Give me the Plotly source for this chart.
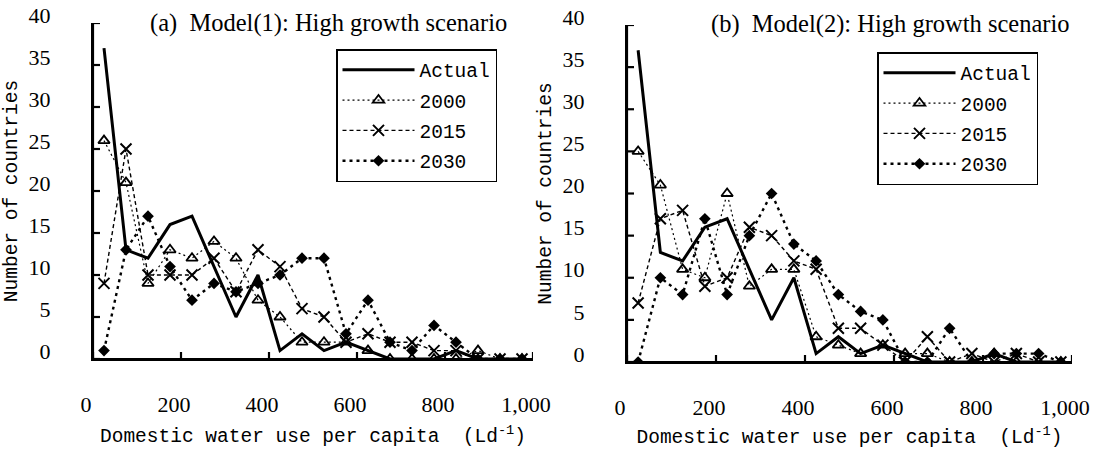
import plotly.graph_objects as go
from plotly.subplots import make_subplots

# ---------------- data ----------------
bins = [25, 75, 125, 175, 225, 275, 325, 375, 425, 475,
        525, 575, 625, 675, 725, 775, 825, 875, 925, 975]

actual = [37, 13, 12, 16, 17, 11, 5, 10, 1, 3, 1, 2, 1, 0, 0, 0, 1, 0, 0, 0]

a_2000 = [26, 21, 9, 13, 12, 14, 12, 7, 5, 2, 2, 2, 1, 0, 0, 0, 0, 1, 0, 0]
a_2015 = [9, 25, 10, 10, 10, 12, 8, 13, 11, 6, 5, 2, 3, 2, 2, 1, 1, 0, 0, 0]
a_2030 = [1, 13, 17, 11, 7, 9, 8, 9, 10, 12, 12, 3, 7, 2, 1, 4, 2, 0, 0, 0]

b_2000 = [25, 21, 11, 10, 20, 9, 11, 11, 3, 2, 1, 2, 1, 1, 0, 0, 1, 0, 0, 0]
b_2015 = [7, 17, 18, 9, 10, 16, 15, 12, 11, 4, 4, 2, 0, 3, 0, 1, 0, 1, 0, 0]
b_2030 = [0, 10, 8, 17, 8, 15, 20, 14, 12, 8, 6, 5, 0, 0, 4, 0, 1, 1, 1, 0]

x_range = [0, 1000]
y_range = [0, 40]
x_ticks = [0, 200, 400, 600, 800, 1000]
y_ticks = [0, 5, 10, 15, 20, 25, 30, 35, 40]

titles = ["(a)\u00a0\u00a0Model(1): High growth scenario",
          "(b)\u00a0\u00a0Model(2): High growth scenario"]
x_title = "Domestic water use per capita\u00a0\u00a0(Ld<sup>-1</sup>)"
y_title = "Number of countries"

# ---------------- styling ----------------
W, H = 1099, 449
SERIF = "Liberation Serif"
MONO = "Liberation Mono"
TICKLEN = 7

styles = {
    "Actual": dict(mode="lines", line=dict(color="black", width=3)),
    "2000": dict(mode="lines+markers", line=dict(color="black", width=1.2, dash="2px,3px"),
                 marker=dict(symbol="triangle-up-open", size=10, color="black",
                             line=dict(width=1.8, color="black"))),
    "2015": dict(mode="lines+markers", line=dict(color="black", width=1.4, dash="4px,3px"),
                 marker=dict(symbol="x-thin-open", size=11, color="black",
                             line=dict(width=2, color="black"))),
    "2030": dict(mode="lines+markers", line=dict(color="black", width=2.4, dash="3px,4px"),
                 marker=dict(symbol="diamond", size=9, color="black")),
}

# pixel geometry of the two plot areas (left, right, top, bottom)
boxes = [(93, 533, 23, 359), (627, 1072, 25, 362)]

fig = make_subplots(rows=1, cols=2)

panels = [
    dict(col=1, legend="legend", group="a",
         series={"Actual": actual, "2000": a_2000, "2015": a_2015, "2030": a_2030}),
    dict(col=2, legend="legend2", group="b",
         series={"Actual": actual, "2000": b_2000, "2015": b_2015, "2030": b_2030}),
]

for p in panels:
    for name, vals in p["series"].items():
        fig.add_trace(go.Scatter(
            x=bins, y=vals, name=name,
            legend=p["legend"], legendgroup=p["group"] + name,
            **styles[name]), row=1, col=p["col"])

# axis frame: one L-shaped path (left + bottom axis) plus inside ticks, built from
# the axis ranges and tick lists so it follows each panel's own scales
for p, (l, r, t, b) in zip(panels, boxes):
    sx = (r - l) / (x_range[1] - x_range[0])
    sy = (b - t) / (y_range[1] - y_range[0])
    dx, dy = TICKLEN / sx, TICKLEN / sy
    fx = [x_range[0], x_range[0], x_range[1]]
    fy = [y_range[1], y_range[0], y_range[0]]
    for v in y_ticks:
        fx += [None, x_range[0], x_range[0] + dx]
        fy += [None, v, v]
    for v in x_ticks:
        fx += [None, v, v]
        fy += [None, y_range[0], y_range[0] + dy]
    fig.add_trace(go.Scatter(x=fx, y=fy, mode="lines", connectgaps=False,
                             line=dict(color="black", width=2.2),
                             showlegend=False, hoverinfo="skip"),
                  row=1, col=p["col"])

fig.update_xaxes(showline=True, linecolor="black", linewidth=2, mirror=False,
                 ticks="", showgrid=False, zeroline=False, automargin=False,
                 range=x_range, tickvals=x_ticks, tickformat=",",
                 ticklabelstandoff=25, ticklabelshift=-7,
                 tickfont=dict(family=SERIF, size=22, color="black"),
                 title=dict(text=x_title, font=dict(family=MONO, size=19.5, color="black"),
                            standoff=12))
fig.update_yaxes(showline=True, linecolor="black", linewidth=2, mirror=False,
                 ticks="", showgrid=False, zeroline=False, automargin=False,
                 range=y_range, tickvals=y_ticks,
                 ticklabelstandoff=36, ticklabelshift=-8,
                 tickfont=dict(family=SERIF, size=22, color="black"),
                 title=dict(text=y_title, font=dict(family=MONO, size=19.5, color="black"),
                            standoff=6))

for i, (l, r, t, b) in enumerate(boxes):
    fig.update_xaxes(domain=[l / W, r / W], row=1, col=i + 1)
    fig.update_yaxes(domain=[(H - b) / H, (H - t) / H], row=1, col=i + 1)

legend_common = dict(bgcolor="white", bordercolor="black", borderwidth=1.5,
                     font=dict(family=MONO, size=19.5, color="black"),
                     xanchor="left", yanchor="top", tracegroupgap=2,
                     itemwidth=72)

fig.update_layout(
    width=W, height=H, margin=dict(l=0, r=0, t=0, b=0, autoexpand=False),
    paper_bgcolor="white", plot_bgcolor="white",
    font=dict(family=SERIF, color="black"),
    showlegend=True,
    legend=dict(legend_common, x=336 / W, y=(H - 49) / H),
    legend2=dict(legend_common, x=877 / W, y=(H - 52) / H),
    annotations=[
        dict(text=titles[0], x=328 / W, y=(H - 23) / H, xref="paper", yref="paper",
             showarrow=False, font=dict(family=SERIF, size=24.5, color="black"),
             xanchor="center", yanchor="middle"),
        dict(text=titles[1], x=891 / W, y=(H - 24) / H, xref="paper", yref="paper",
             showarrow=False, font=dict(family=SERIF, size=24.5, color="black"),
             xanchor="center", yanchor="middle"),
    ],
)

fig.write_html("out.html", config={"staticPlot": True})
